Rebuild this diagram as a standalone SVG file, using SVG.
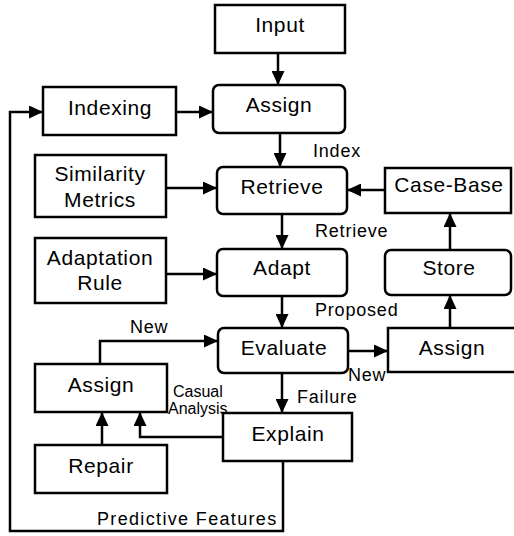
<svg xmlns="http://www.w3.org/2000/svg" width="514" height="536" viewBox="0 0 514 536">
<style>
.box{fill:#fff;stroke:#000;stroke-width:2.5}
.t{font-family:"Liberation Sans",Arial,sans-serif;font-size:21px;letter-spacing:0.6px;text-anchor:middle;fill:#000}
.l{font-family:"Liberation Sans",Arial,sans-serif;font-size:18px;letter-spacing:0.8px;fill:#000}
.s{font-family:"Liberation Sans",Arial,sans-serif;font-size:16px;fill:#000}
.c{fill:none;stroke:#000;stroke-width:2.5}
</style>
<defs>
<marker id="ah" markerUnits="userSpaceOnUse" markerWidth="14" markerHeight="13" refX="14" refY="6.5" orient="auto">
<path d="M0,0 L14,6.5 L0,13 z" fill="#000"/>
</marker>
</defs>
<rect width="514" height="536" fill="#fff"/>
<g id="connectors">
<line class="c" x1="278" y1="53" x2="278" y2="85" marker-end="url(#ah)"/>
<line class="c" x1="176" y1="112" x2="213" y2="112" marker-end="url(#ah)"/>
<line class="c" x1="280" y1="133" x2="280" y2="167" marker-end="url(#ah)"/>
<line class="c" x1="166" y1="188" x2="217" y2="188" marker-end="url(#ah)"/>
<line class="c" x1="385" y1="190" x2="347" y2="190" marker-end="url(#ah)"/>
<line class="c" x1="282" y1="214" x2="282" y2="249" marker-end="url(#ah)"/>
<line class="c" x1="166" y1="274" x2="217" y2="274" marker-end="url(#ah)"/>
<line class="c" x1="282" y1="296" x2="282" y2="328" marker-end="url(#ah)"/>
<line class="c" x1="348" y1="351" x2="388" y2="351" marker-end="url(#ah)"/>
<line class="c" x1="450" y1="328" x2="450" y2="295" marker-end="url(#ah)"/>
<line class="c" x1="450" y1="250" x2="450" y2="213" marker-end="url(#ah)"/>
<line class="c" x1="282" y1="373" x2="282" y2="413" marker-end="url(#ah)"/>
<polyline class="c" points="283,461 283,531 10,531 10,112 43,112" marker-end="url(#ah)"/>
<polyline class="c" points="100,364 100,341 218,341" marker-end="url(#ah)"/>
<line class="c" x1="102" y1="445" x2="102" y2="412" marker-end="url(#ah)"/>
<polyline class="c" points="223,437 140,437 140,412" marker-end="url(#ah)"/>
</g>
<g id="input"><rect class="box" x="215" y="5" width="130" height="48"/><text class="t" x="280" y="32">Input</text></g>
<g id="indexing"><rect class="box" x="43" y="87" width="133" height="48"/><text class="t" x="110" y="115">Indexing</text></g>
<g id="assign-top"><rect class="box" x="213" y="85" width="132" height="48" rx="6"/><text class="t" x="279" y="112">Assign</text></g>
<g id="similarity"><rect class="box" x="35" y="155" width="131" height="62"/><text class="t" x="100" y="181">Similarity</text><text class="t" x="100" y="207">Metrics</text></g>
<g id="retrieve"><rect class="box" x="217" y="167" width="130" height="47" rx="6"/><text class="t" x="282" y="194">Retrieve</text></g>
<g id="case-base"><rect class="box" x="385" y="168" width="126" height="45"/><text class="t" x="449" y="192">Case-Base</text></g>
<g id="adaptation"><rect class="box" x="35" y="238" width="131" height="65"/><text class="t" x="100" y="265">Adaptation</text><text class="t" x="100" y="290">Rule</text></g>
<g id="adapt"><rect class="box" x="217" y="249" width="130" height="47" rx="6"/><text class="t" x="282" y="275">Adapt</text></g>
<g id="store"><rect class="box" x="385" y="250" width="126" height="45" rx="6"/><text class="t" x="449" y="275">Store</text></g>
<g id="evaluate"><rect class="box" x="218" y="328" width="130" height="45" rx="6"/><text class="t" x="284" y="355">Evaluate</text></g>
<g id="assign-right"><rect class="box" x="388" y="328" width="130" height="44"/><text class="t" x="452" y="355">Assign</text></g>
<g id="assign-left"><rect class="box" x="35" y="364" width="132" height="48"/><text class="t" x="101" y="392">Assign</text></g>
<g id="explain"><rect class="box" x="223" y="413" width="129" height="48"/><text class="t" x="288" y="441">Explain</text></g>
<g id="repair"><rect class="box" x="35" y="445" width="132" height="48"/><text class="t" x="101" y="473">Repair</text></g>
<g id="labels">
<text class="l" x="313" y="157">Index</text>
<text class="l" x="315" y="237">Retrieve</text>
<text class="l" x="315" y="316">Proposed</text>
<text class="l" x="130" y="333">New</text>
<text class="l" x="348" y="381">New</text>
<text class="l" x="297" y="403">Failure</text>
<text class="s" x="173" y="397">Casual</text>
<text class="s" x="168" y="414">Analysis</text>
<text class="l" x="97" y="525" textLength="180" lengthAdjust="spacing">Predictive Features</text>
</g>
</svg>
